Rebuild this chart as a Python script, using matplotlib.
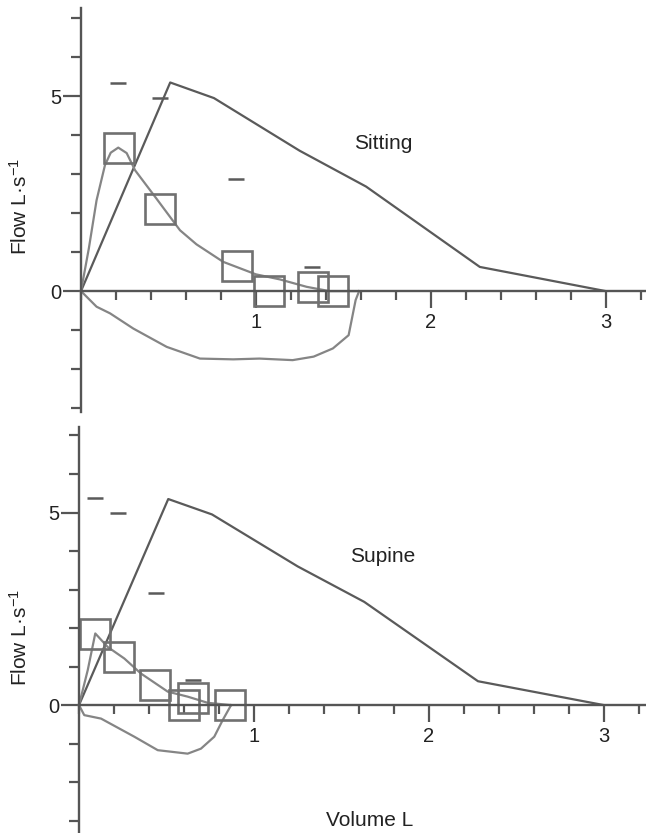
import matplotlib
matplotlib.use('Agg')
import matplotlib.pyplot as plt
from matplotlib.ticker import FixedLocator, MultipleLocator

plt.rcParams['font.family'] = ['Liberation Sans', 'DejaVu Sans']
plt.rcParams['mathtext.default'] = 'regular'

# predicted flow-volume curve (same in both panels)
pred_vol = [0, 0.51, 0.76, 1.25, 1.63, 2.28, 3.0]
pred_flow = [0, 5.35, 4.95, 3.6, 2.68, 0.62, 0]

# sitting
sit_exp_vol = [0, 0.045, 0.089, 0.137, 0.17, 0.213, 0.261, 0.309, 0.43, 0.566, 0.66, 0.813, 1.0, 1.137, 1.29, 1.42, 1.59]
sit_exp_flow = [0, 1.1, 2.33, 3.23, 3.55, 3.68, 3.54, 3.1, 2.38, 1.56, 1.2, 0.75, 0.43, 0.3, 0.11, 0, 0]
sit_insp_vol = [0, 0.089, 0.166, 0.299, 0.49, 0.68, 0.87, 1.02, 1.21, 1.33, 1.44, 1.53, 1.57, 1.59]
sit_insp_flow = [0, -0.4, -0.57, -0.96, -1.43, -1.73, -1.75, -1.73, -1.77, -1.68, -1.47, -1.13, -0.23, 0]
sit_sq_vol = [0.216, 0.449, 0.893, 1.075, 1.324, 1.438]
sit_sq_flow = [3.66, 2.1, 0.65, 0.0, 0.1, 0.0]
sit_dash_vol = [0.214, 0.45, 0.886, 1.323]
sit_dash_flow = [5.34, 4.94, 2.87, 0.62]

# supine
sup_exp_vol = [0, 0.05, 0.093, 0.164, 0.259, 0.354, 0.507, 0.621, 0.735, 0.869]
sup_exp_flow = [0, 0.91, 1.86, 1.51, 1.21, 0.82, 0.35, 0.22, 0.06, 0]
sup_insp_vol = [0, 0.03, 0.126, 0.316, 0.45, 0.621, 0.697, 0.773, 0.821, 0.869]
sup_insp_flow = [0, -0.26, -0.35, -0.82, -1.17, -1.26, -1.13, -0.82, -0.39, 0]
sup_sq_vol = [0.089, 0.23, 0.435, 0.651, 0.6, 0.864]
sup_sq_flow = [1.84, 1.25, 0.51, 0.18, -0.01, -0.01]
sup_dash_vol = [0.09, 0.221, 0.44, 0.65]
sup_dash_flow = [5.38, 4.99, 2.9, 0.65]

AX_COL = '#555555'
PRED_COL = '#5a5a5a'
MEAS_COL = '#858585'
SQ_COL = '#707070'


def draw_panel(ax, ylim, xlim, exp_v, exp_f, insp_v, insp_f, sq_v, sq_f, d_v, d_f, label, lab_xy):
    ax.set_xlim(*xlim)
    ax.set_ylim(*ylim)
    ax.plot(pred_vol, pred_flow, color=PRED_COL, lw=1.6, clip_on=False)
    ax.plot(exp_v, exp_f, color=MEAS_COL, lw=1.6, clip_on=False)
    ax.plot(insp_v, insp_f, color=MEAS_COL, lw=1.6, clip_on=False)
    ax.plot(sq_v, sq_f, ls='none', marker='s', ms=22, mfc='none', mec=SQ_COL, mew=1.9, clip_on=False)
    ax.plot(d_v, d_f, ls='none', marker='_', ms=11, mec=PRED_COL, mew=1.8, clip_on=False)
    ax.text(lab_xy[0], lab_xy[1], label, fontsize=15, color='#222222', ha='left', va='center')

    for s in ['top', 'right']:
        ax.spines[s].set_visible(False)
    ax.spines['bottom'].set_position(('data', 0))
    ax.spines['left'].set_position(('data', 0))
    for s in ['bottom', 'left']:
        ax.spines[s].set_color(AX_COL)
        ax.spines[s].set_linewidth(1.7)

    ax.xaxis.set_major_locator(FixedLocator([1, 2, 3]))
    ax.xaxis.set_minor_locator(MultipleLocator(0.2))
    ax.yaxis.set_major_locator(FixedLocator([0, 5]))
    ax.yaxis.set_minor_locator(FixedLocator([-3, -2, -1, 1, 2, 3, 4, 6, 7]))
    ax.tick_params(axis='x', which='major', direction='out', length=12, width=1.6,
                   color=AX_COL, labelsize=14.5, pad=4, labelcolor='#222222')
    ax.tick_params(axis='x', which='minor', direction='out', length=6.5, width=1.6, color=AX_COL)
    ax.tick_params(axis='y', which='major', direction='out', length=13, width=1.6,
                   color=AX_COL, labelsize=14.5, pad=1, labelcolor='#222222')
    ax.tick_params(axis='y', which='minor', direction='out', length=7, width=1.6, color=AX_COL)
    ax.set_xticklabels(['1', '2', '3'])
    ax.set_yticklabels(['0', '5'])


fig = plt.figure(figsize=(6.46, 8.33), dpi=100)

ax1 = fig.add_axes([81 / 646, 1 - 412 / 833, 565 / 646, 404 / 833])
draw_panel(ax1, (-3.1, 7.26), (0, 3.23), sit_exp_vol, sit_exp_flow, sit_insp_vol, sit_insp_flow,
           sit_sq_vol, sit_sq_flow, sit_dash_vol, sit_dash_flow, 'Sitting', (1.56, 3.79))

ax2 = fig.add_axes([79 / 646, 0, 567 / 646, 406 / 833])
draw_panel(ax2, (-3.32, 7.22), (0, 3.24), sup_exp_vol, sup_exp_flow, sup_insp_vol, sup_insp_flow,
           sup_sq_vol, sup_sq_flow, sup_dash_vol, sup_dash_flow, 'Supine', (1.55, 3.85))

fig.text(20 / 646, 1 - 207 / 833, r'Flow L·s$^{-1}$', rotation=90, ha='center', va='center',
         fontsize=15, color='#222222')
fig.text(20 / 646, 1 - 638 / 833, r'Flow L·s$^{-1}$', rotation=90, ha='center', va='center',
         fontsize=15, color='#222222')
fig.text(370 / 646, 1 - 820 / 833, 'Volume L', ha='center', va='center', fontsize=15, color='#222222')

fig.savefig('out.png', dpi=100)
